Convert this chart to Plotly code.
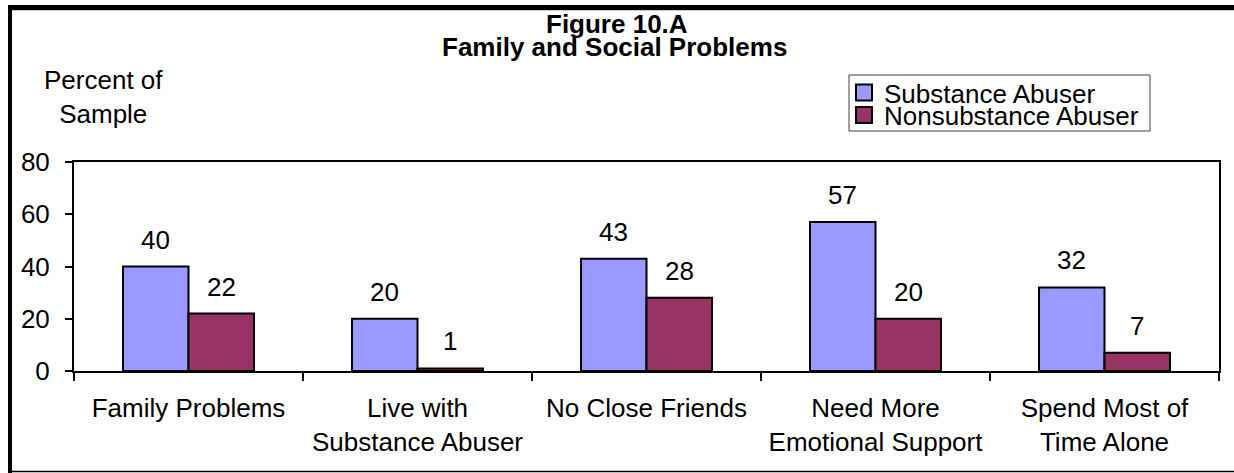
import plotly.graph_objects as go

# ---- data ----
categories = ["Family Problems", "Live with<br>Substance Abuser", "No Close Friends",
              "Need More<br>Emotional Support", "Spend Most of<br>Time Alone"]
substance_abuser = [40, 20, 43, 57, 32]
nonsubstance_abuser = [22, 1, 28, 20, 7]
series_names = ["Substance Abuser", "Nonsubstance Abuser"]
y_ticks = [0, 20, 40, 60, 80]

# ---- layout constants ----
W, H = 1234, 473
L, R, T, B = 74, 15, 162, 102
PW, PH = W - L - R, H - T - B
BARGAP = 0.428
FONT = "Arial, Liberation Sans, Helvetica, sans-serif"
FS = 26
C1, C2 = "#9999FF", "#993366"


def px_x(p):
    return (p - L) / PW


def px_y(p):
    return (H - B - p) / PH


fig = go.Figure()
for name, vals, col in [(series_names[0], substance_abuser, C1),
                        (series_names[1], nonsubstance_abuser, C2)]:
    fig.add_trace(go.Bar(x=categories, y=vals, name=name, showlegend=False,
                         marker=dict(color=col, line=dict(color="black", width=2))))

# legend entries (two legends for tight spacing)
for name, col, lg in [(series_names[0], C1, "legend"), (series_names[1], C2, "legend2")]:
    fig.add_trace(go.Scatter(x=[None], y=[None], mode="markers", name=name, legend=lg,
                             marker=dict(symbol="square", size=16, color=col,
                                         line=dict(color="black", width=2))))

# data labels
off = PW / len(categories) * (1 - BARGAP) / 4
annotations = []
for vals, sh in [(substance_abuser, -off), (nonsubstance_abuser, off)]:
    for c, v in zip(categories, vals):
        annotations.append(dict(x=c, y=v, xref="x", yref="y", text=str(v), showarrow=False,
                                xshift=sh, yshift=10, yanchor="bottom",
                                font=dict(family=FONT, size=FS, color="black")))

# titles
annotations.append(dict(x=px_x(617), y=px_y(23.5), xref="paper", yref="paper",
                        text="<b>Figure 10.A</b>",
                        showarrow=False, yanchor="middle", xanchor="center",
                        font=dict(family=FONT, size=FS, color="black")))
annotations.append(dict(x=px_x(614), y=px_y(47), xref="paper", yref="paper",
                        text="<b>Family and Social Problems</b>",
                        showarrow=False, yanchor="middle", xanchor="center",
                        font=dict(family=FONT, size=FS, color="black")))
# y axis title
annotations.append(dict(x=px_x(103), y=px_y(97), xref="paper", yref="paper",
                        text="Percent of<br>Sample", showarrow=False, align="center",
                        xanchor="center", yanchor="middle",
                        font=dict(family=FONT, size=FS, color="black")))

shapes = [
    # outer frame
    dict(type="line", xref="paper", yref="paper", x0=px_x(8), x1=px_x(1240), y0=px_y(7.5), y1=px_y(7.5),
         line=dict(color="black", width=5)),
    dict(type="line", xref="paper", yref="paper", x0=px_x(12), x1=px_x(1240), y0=px_y(10.5), y1=px_y(10.5),
         line=dict(color="#c8c8c8", width=1)),
    dict(type="line", xref="paper", yref="paper", x0=px_x(10), x1=px_x(10), y0=px_y(5), y1=px_y(473),
         line=dict(color="black", width=4)),
    dict(type="line", xref="paper", yref="paper", x0=px_x(10), x1=px_x(1240), y0=px_y(471.5), y1=px_y(471.5),
         line=dict(color="black", width=1.5)),
    # legend box
    dict(type="rect", xref="paper", yref="paper", x0=px_x(849), x1=px_x(1150), y0=px_y(75), y1=px_y(131),
         line=dict(color="#404040", width=1)),
]

legend_common = dict(font=dict(family=FONT, size=FS, color="black"), bgcolor="rgba(0,0,0,0)",
                     borderwidth=0, itemsizing="trace", xanchor="left", yanchor="middle",
                     x=px_x(844))

fig.update_layout(
    width=W, height=H,
    margin=dict(l=L, r=R, t=T, b=B, pad=0),
    paper_bgcolor="white", plot_bgcolor="white",
    barmode="group", bargap=BARGAP, bargroupgap=0,
    font=dict(family=FONT, size=FS, color="black"),
    showlegend=True,
    legend=dict(**legend_common, y=px_y(92.5)),
    legend2=dict(**legend_common, y=px_y(115)),
    annotations=annotations,
    shapes=shapes,
    xaxis=dict(type="category", showline=True, linecolor="black", linewidth=2, mirror=True,
               ticks="outside", ticklen=8, tickwidth=1.5, tickcolor="black", tickson="boundaries",
               showgrid=False, ticklabelstandoff=13,
               tickfont=dict(family=FONT, size=FS, color="black")),
    yaxis=dict(range=[0, 80], tickvals=y_ticks, showline=True, linecolor="black", linewidth=2,
               mirror=True, ticks="outside", ticklen=7, tickwidth=1.5, tickcolor="black",
               showgrid=False, zeroline=False, ticklabelstandoff=10,
               tickfont=dict(family=FONT, size=FS, color="black")),
)

fig.write_html("out.html", config={"displayModeBar": False},
               post_script="document.body.style.margin='0';document.body.style.overflow='hidden';")
